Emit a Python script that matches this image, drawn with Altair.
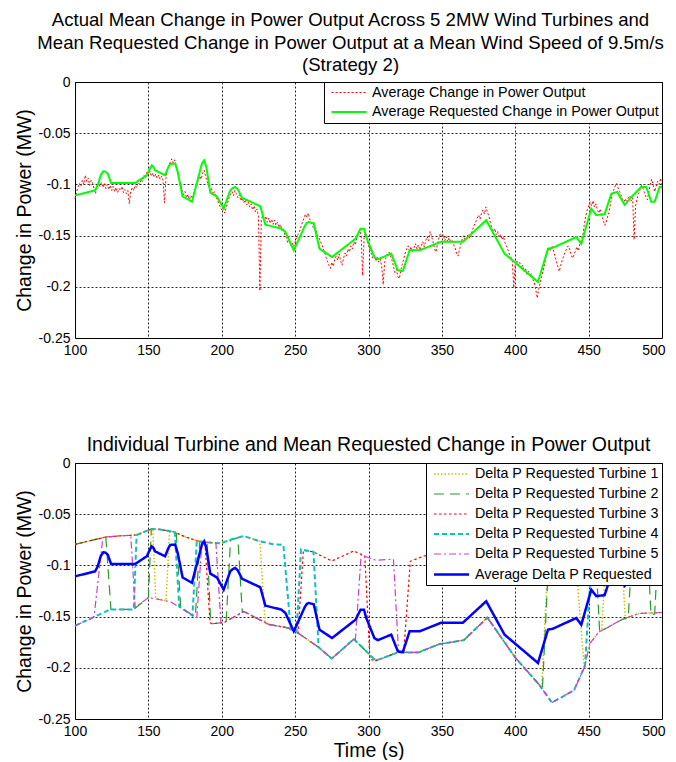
import altair as alt
import pandas as pd

# ---------------- data: top panel ----------------
act_start = 100
act_v = [
    -0.114,-0.108,-0.103,-0.099,-0.102,-0.096,-0.100,-0.091,-0.097,-0.094,
    -0.101,-0.096,-0.099,-0.104,-0.109,-0.101,-0.097,-0.102,-0.098,-0.103,
    -0.099,-0.104,-0.100,-0.105,-0.101,-0.106,-0.102,-0.107,-0.103,-0.108,
    -0.104,-0.106,-0.102,-0.108,-0.105,-0.109,-0.106,-0.119,-0.107,-0.103,
    -0.106,-0.101,-0.103,-0.098,-0.100,-0.095,-0.097,-0.091,-0.094,-0.088,
    -0.091,-0.087,-0.092,-0.089,-0.093,-0.090,-0.094,-0.091,-0.095,-0.092,
    -0.096,-0.118,-0.094,-0.086,-0.081,-0.078,-0.075,-0.079,-0.076,-0.082,
    -0.087,-0.093,-0.100,-0.106,-0.110,-0.107,-0.113,-0.110,-0.115,-0.111,
    -0.114,-0.108,-0.104,-0.100,-0.096,-0.092,-0.095,-0.089,-0.086,-0.092,
    -0.097,-0.101,-0.106,-0.104,-0.110,-0.107,-0.112,-0.115,-0.119,-0.122,
    -0.125,-0.121,-0.128,-0.123,-0.118,-0.113,-0.110,-0.107,-0.111,-0.106,
    -0.109,-0.113,-0.110,-0.116,-0.113,-0.118,-0.115,-0.120,-0.117,-0.122,
    -0.119,-0.125,-0.121,-0.127,-0.124,-0.131,-0.204,-0.134,-0.130,-0.136,
    -0.131,-0.137,-0.133,-0.138,-0.134,-0.139,-0.135,-0.140,-0.137,-0.142,
    -0.139,-0.145,-0.143,-0.149,-0.152,-0.157,-0.154,-0.160,-0.157,-0.161,
    -0.156,-0.153,-0.149,-0.146,-0.141,-0.137,-0.133,-0.129,-0.132,-0.128,
    -0.134,-0.137,-0.141,-0.144,-0.143,-0.149,-0.151,-0.155,-0.158,-0.162,
    -0.166,-0.171,-0.175,-0.179,-0.182,-0.176,-0.180,-0.173,-0.170,-0.174,
    -0.168,-0.175,-0.179,-0.172,-0.167,-0.170,-0.163,-0.166,-0.160,-0.163,
    -0.156,-0.159,-0.152,-0.149,-0.145,-0.150,-0.189,-0.152,-0.147,-0.155,
    -0.160,-0.164,-0.168,-0.172,-0.169,-0.175,-0.171,-0.176,-0.173,-0.180,
    -0.198,-0.176,-0.171,-0.168,-0.166,-0.170,-0.174,-0.180,-0.186,-0.183,
    -0.190,-0.192,-0.184,-0.178,-0.173,-0.167,-0.163,-0.160,-0.165,-0.161,
    -0.166,-0.162,-0.158,-0.163,-0.159,-0.164,-0.160,-0.156,-0.161,-0.155,
    -0.151,-0.155,-0.146,-0.151,-0.156,-0.163,-0.166,-0.158,-0.152,-0.148,
    -0.152,-0.149,-0.155,-0.151,-0.156,-0.152,-0.157,-0.154,-0.159,-0.162,
    -0.167,-0.170,-0.164,-0.158,-0.153,-0.150,-0.155,-0.151,-0.149,-0.153,
    -0.148,-0.144,-0.140,-0.137,-0.133,-0.130,-0.134,-0.128,-0.125,-0.129,
    -0.122,-0.127,-0.131,-0.137,-0.143,-0.146,-0.143,-0.149,-0.146,-0.152,
    -0.149,-0.154,-0.151,-0.157,-0.160,-0.164,-0.168,-0.171,-0.175,-0.201,
    -0.178,-0.174,-0.179,-0.176,-0.182,-0.179,-0.185,-0.182,-0.188,-0.185,
    -0.190,-0.187,-0.193,-0.196,-0.203,-0.211,-0.202,-0.196,-0.190,-0.184,
    -0.178,-0.170,-0.166,-0.162,-0.165,-0.160,-0.164,-0.170,-0.175,-0.180,
    -0.185,-0.179,-0.174,-0.170,-0.166,-0.163,-0.160,-0.163,-0.168,-0.172,
    -0.169,-0.165,-0.161,-0.165,-0.158,-0.154,-0.150,-0.140,-0.131,-0.125,
    -0.121,-0.117,-0.121,-0.116,-0.122,-0.119,-0.125,-0.128,-0.124,-0.131,
    -0.135,-0.140,-0.137,-0.131,-0.127,-0.118,-0.110,-0.106,-0.102,-0.099,
    -0.103,-0.107,-0.110,-0.114,-0.117,-0.114,-0.118,-0.113,-0.111,-0.116,
    -0.113,-0.154,-0.121,-0.114,-0.109,-0.105,-0.101,-0.104,-0.108,-0.112,
    -0.115,-0.108,-0.100,-0.095,-0.101,-0.107,-0.102,-0.097,-0.100,-0.094,
    -0.104,
]
act_t = list(range(act_start, act_start + len(act_v)))

req_t = [100,113.7,115.5,117.5,119.3,120.8,122.3,124.6,141,149,
         151,152.3,153.3,154.6,161.4,163.5,164.9,168.3,170,173.3,
         179.7,186.5,188,189.5,192.2,196.7,201.3,205.8,207.5,209.2,
         211,213.8,226.3,229.7,240.6,243.4,249.1,256.6,258,259.3,
         262.7,266.6,275.2,291.2,294.6,296.9,298.4,304,306.4,315.5,
         320,323.4,328,334.8,349.5,364.3,380.2,392.7,415.5,422.3,
         425.7,441.6,445,451.8,455.2,460.9,465.5,469.5,474.5,480.2,
         485.9,489.3,492.7,495,498.4,500]
req_v = [-0.1107,-0.1058,-0.101,-0.091,-0.0872,-0.0875,-0.0895,-0.0986,-0.0986,-0.091,
         -0.0845,-0.0814,-0.0825,-0.0863,-0.0911,-0.0835,-0.080,-0.0797,-0.088,-0.1117,
         -0.117,-0.0795,-0.0765,-0.083,-0.108,-0.1117,-0.1237,-0.1058,-0.1035,-0.1025,
         -0.105,-0.113,-0.1214,-0.1393,-0.1432,-0.1465,-0.1644,-0.1406,-0.1375,-0.1367,
         -0.138,-0.1628,-0.1709,-0.153,-0.1432,-0.1432,-0.151,-0.171,-0.173,-0.1676,
         -0.184,-0.1846,-0.1644,-0.1644,-0.156,-0.156,-0.135,-0.1676,-0.1953,-0.1628,
         -0.1618,-0.1514,-0.158,-0.1237,-0.130,-0.129,-0.109,-0.1074,-0.120,-0.1107,
         -0.1025,-0.1025,-0.117,-0.117,-0.1025,-0.1025]

# ---------------- data: bottom panel (turbines) ----------------
t1_t = [100,110,121,130,142,152,153,155,162,164.5,167,175,183,190,199,207,215,225,226,229.5,
        232,245,250,266,275,290,305,320,334,348,365,381,400,416,418,421.5,430,440,442,447,
        451,457,459,462,470,472,475,484,500]
t1_v = [-0.0795,-0.076,-0.0723,-0.0712,-0.0703,-0.0645,-0.0645,-0.132,-0.1345,-0.0668,
        -0.0671,-0.072,-0.076,-0.0775,-0.0785,-0.0745,-0.0713,-0.076,-0.0765,-0.156,
        -0.1576,-0.161,-0.164,-0.18,-0.191,-0.172,-0.193,-0.185,-0.185,-0.177,
        -0.173,-0.151,-0.19,-0.216,-0.22,-0.117,-0.118,-0.112,-0.110,-0.200,
        -0.176,-0.165,-0.162,-0.087,-0.080,-0.0795,-0.152,-0.147,-0.146]

t2_t = [100,110,121,124.5,140,150,152,156,167,169,172,181,182,185,190,192.5,194,202,203,206,
        207,211,214,215,232,245,250,266,275,290,305,320,334,348,365,381,400,416,418.5,422,
        430,440,450,455,457.5,473,477,480,490,492.5,495,497.5,500]
t2_v = [-0.0795,-0.076,-0.0723,-0.143,-0.143,-0.1315,-0.0645,-0.0645,-0.0671,-0.068,
        -0.141,-0.1494,-0.150,-0.0768,-0.0775,-0.157,-0.157,-0.1555,-0.155,-0.075,
        -0.0745,-0.073,-0.146,-0.145,-0.1576,-0.161,-0.164,-0.18,-0.191,-0.172,
        -0.193,-0.185,-0.185,-0.177,-0.173,-0.151,-0.19,-0.216,-0.221,-0.117,
        -0.118,-0.112,-0.098,-0.093,-0.165,-0.1527,-0.151,-0.077,-0.078,-0.148,
        -0.1475,-0.078,-0.078]

t3_t = [100,110,121,130,142,152,156,167,175,183,188.5,192,194,202,215,232,245,250,252,255.6,
        262,275,290,297.5,301,305,320,324,328.5,338,350,365,380,400,418,430,440,450,460,470,
        480,490,500]
t3_v = [-0.0795,-0.076,-0.0723,-0.0712,-0.0703,-0.0645,-0.0645,-0.0671,-0.072,-0.076,
        -0.077,-0.156,-0.157,-0.1555,-0.145,-0.1576,-0.161,-0.164,-0.166,-0.0855,
        -0.0866,-0.0957,-0.0859,-0.091,-0.192,-0.193,-0.185,-0.185,-0.096,-0.0908,
        -0.087,-0.088,-0.075,-0.1,-0.117,-0.118,-0.112,-0.098,-0.088,-0.08,
        -0.077,-0.078,-0.078]

t4_t = [100,112,124,140,142,152,156,167,168,171,180,183,190,199,207,215,225,235,242,247,
        250,251,254,262.5,266,275,290,305,320,334,348,365,381,400,416,425,440,447.5,452,460,
        470,480,490,500]
t4_v = [-0.159,-0.151,-0.143,-0.143,-0.0703,-0.0645,-0.0645,-0.0671,-0.0675,-0.140,
        -0.149,-0.076,-0.0775,-0.0785,-0.0745,-0.0713,-0.076,-0.0794,-0.080,-0.1625,
        -0.164,-0.165,-0.0843,-0.0868,-0.18,-0.191,-0.172,-0.193,-0.185,-0.185,
        -0.177,-0.173,-0.151,-0.19,-0.216,-0.234,-0.222,-0.198,-0.095,-0.088,
        -0.08,-0.077,-0.078,-0.078]

t5_t = [100,112,113,119,121,130,138,141,150,165,181,183,186.5,190,196,199.5,202,215,232,245,
        250,266,275,290,291,295,297,305,316,317,320.5,334,348,365,381,400,416,425,440,447,
        451,457,473,484,500]
t5_v = [-0.159,-0.151,-0.150,-0.0728,-0.0723,-0.0712,-0.0706,-0.141,-0.1315,-0.1354,
        -0.1494,-0.151,-0.0768,-0.0775,-0.078,-0.1565,-0.1555,-0.145,-0.1576,-0.161,
        -0.164,-0.18,-0.191,-0.172,-0.1735,-0.0892,-0.0908,-0.095,-0.094,-0.094,
        -0.185,-0.185,-0.177,-0.173,-0.151,-0.19,-0.216,-0.234,-0.222,-0.2,
        -0.176,-0.165,-0.1527,-0.147,-0.146]

top_names = ["Average Change in Power Output", "Average Requested Change in Power Output"]
bot_names = ["Delta P Requested Turbine 1", "Delta P Requested Turbine 2",
             "Delta P Requested Turbine 3", "Delta P Requested Turbine 4",
             "Delta P Requested Turbine 5", "Average Delta P Requested"]

x_ticks = [100, 150, 200, 250, 300, 350, 400, 450, 500]
y_ticks = [-0.25, -0.2, -0.15, -0.1, -0.05, 0]

title_top = ["Actual Mean Change in Power Output Across 5 2MW Wind Turbines and",
             "Mean Requested Change in Power Output at a Mean Wind Speed of 9.5m/s",
             "(Strategy 2)"]
title_bot = "Individual Turbine and Mean Requested Change in Power Output"

# ---------------- frames ----------------
df_act = pd.DataFrame({"t": act_t, "v": act_v, "s1": top_names[0]})
df_req = pd.DataFrame({"t": req_t, "v": req_v, "s1": top_names[1]})

turb = []
for name, tt, vv in [(bot_names[0], t1_t, t1_v), (bot_names[1], t2_t, t2_v),
                     (bot_names[2], t3_t, t3_v), (bot_names[3], t4_t, t4_v),
                     (bot_names[4], t5_t, t5_v)]:
    turb.append(pd.DataFrame({"t": tt, "v": vv, "s2": name}))
df_turb = pd.concat(turb, ignore_index=True)
df_avg = pd.DataFrame({"t": req_t, "v": req_v, "s2": bot_names[5]})

FONT = "Liberation Sans"
W, H = 587, 256

xsc = alt.Scale(domain=[100, 500], nice=False, zero=False)
ysc = alt.Scale(domain=[-0.25, 0], nice=False, zero=False)


def xenc(title):
    return alt.X("t:Q", scale=xsc,
                 axis=alt.Axis(values=x_ticks, title=title, format="d", titlePadding=3,
                               labelAlign={"condition": {"test": "datum.value == 500",
                                                         "value": "right"},
                                           "value": "center"},
                               labelOffset={"condition": {"test": "datum.value == 500",
                                                          "value": 3},
                                            "value": 0}))


yenc = alt.Y("v:Q", scale=ysc,
             axis=alt.Axis(values=y_ticks, title="Change in Power (MW)",
                           labelExpr="'' + datum.value", titlePadding=4))

top_color = alt.Color("s1:N", scale=alt.Scale(domain=top_names, range=["#ff0000", "#00ff00"]),
                      legend=alt.Legend(title=None))
top_dash = alt.StrokeDash("s1:N", scale=alt.Scale(domain=top_names, range=[[2, 2], [1, 0]]),
                          legend=alt.Legend(title=None))
top_width = alt.StrokeWidth("s1:N", scale=alt.Scale(type="ordinal", domain=top_names,
                                                    range=[1, 2]),
                            legend=alt.Legend(title=None))

top_a = alt.Chart(df_act).mark_line().encode(
    x=xenc(None), y=yenc, color=top_color, strokeDash=top_dash, strokeWidth=top_width)
top_b = alt.Chart(df_req).mark_line().encode(
    x=xenc(None), y=yenc, color=top_color, strokeDash=top_dash, strokeWidth=top_width)

top = alt.layer(top_a, top_b).properties(
    width=W, height=H,
    title=alt.TitleParams(text=title_top, fontSize=18.6, font=FONT, fontWeight="normal",
                          color="black", lineHeight=22.7, frame="group", anchor="middle",
                          baseline="alphabetic", offset=-15, dx=-18))

bot_color = alt.Color("s2:N", scale=alt.Scale(
    domain=bot_names,
    range=["#c4c400", "#2a9a2a", "#ff0000", "#10c0c0", "#cc3fcc", "#0000ff"]),
    legend=alt.Legend(title=None))
bot_dash = alt.StrokeDash("s2:N", scale=alt.Scale(
    domain=bot_names,
    range=[[1.5, 2], [10, 6], [2.5, 2.5], [5, 3], [7, 3, 2, 3], [1, 0]]),
    legend=alt.Legend(title=None))
bot_width = alt.StrokeWidth("s2:N", scale=alt.Scale(
    type="ordinal", domain=bot_names, range=[1.5, 1.2, 1.2, 2, 1.2, 2.5]),
    legend=alt.Legend(title=None))

bot_a = alt.Chart(df_turb).mark_line().encode(
    x=xenc("Time (s)"), y=yenc, color=bot_color, strokeDash=bot_dash, strokeWidth=bot_width,
    detail="s2:N")
bot_b = alt.Chart(df_avg).mark_line().encode(
    x=xenc("Time (s)"), y=yenc, color=bot_color, strokeDash=bot_dash, strokeWidth=bot_width)

bot = alt.layer(bot_a, bot_b).properties(
    width=W, height=H,
    title=alt.TitleParams(text=title_bot, fontSize=19.5, font=FONT, fontWeight="normal",
                          color="black", frame="group", anchor="middle",
                          baseline="alphabetic", offset=-14))

chart = alt.vconcat(top, bot, spacing=76).resolve_scale(
    color="independent", strokeDash="independent", strokeWidth="independent"
).properties(
    padding={"left": 5, "top": 2, "right": 0, "bottom": 0}
).configure_view(
    stroke="black", strokeWidth=1
).configure_axis(
    grid=True, gridColor="black", gridDash=[2, 2], gridOpacity=0.85, gridWidth=1,
    domain=False, ticks=False,
    labelFont=FONT, labelFontSize=14, labelColor="black", labelPadding=5,
    titleFont=FONT, titleFontSize=19.5, titleFontWeight="normal", titleColor="black"
).configure_legend(
    orient="top-right", offset=0, padding=3, rowPadding=4,
    strokeColor="black", fillColor="white", cornerRadius=0,
    symbolType="M-0.5,0H4.5", symbolSize=196, labelOffset=29,
    labelFont=FONT, labelFontSize=14.3, labelColor="black", labelLimit=500
)

chart.save("out.html", embed_options={"renderer": "svg", "actions": False})
